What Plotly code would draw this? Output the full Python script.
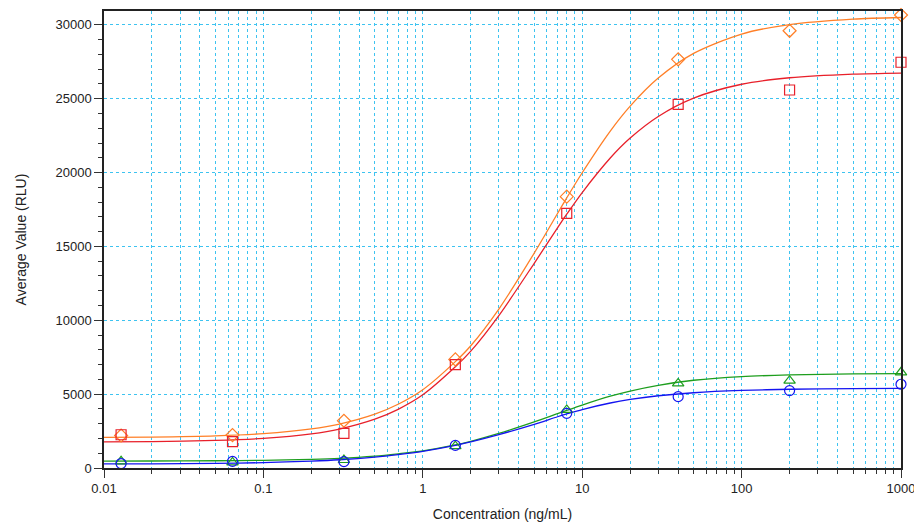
import plotly.graph_objects as go

# Measured standards (markers)
conc = [0.0128, 0.064, 0.32, 1.6, 8, 40, 200, 1000]
orange_pts = [2200, 2230, 3200, 7350, 18370, 27670, 29600, 30670]
red_pts = [2250, 1780, 2350, 7000, 17240, 24620, 25590, 27470]
green_pts = [450, 380, 540, 1480, 3930, 5730, 5910, 6480]
blue_pts = [300, 450, 430, 1530, 3700, 4830, 5240, 5670]

# Fitted curves
curve_x = [0.01, 0.02, 0.05, 0.1, 0.2, 0.3, 0.5, 0.7, 1, 1.6, 2, 3, 5, 7, 8, 10,
           15, 20, 30, 50, 100, 200, 500, 1000]
orange_fit = [2071, 2096, 2177, 2325, 2642, 2972, 3643, 4314, 5299, 7200, 8275, 10760,
              14550, 17230, 18290, 19990, 22810, 24500, 26400, 28070, 29380, 30020, 30390, 30500]
red_fit = [1769, 1791, 1867, 2007, 2316, 2639, 3306, 3974, 4957, 6850, 7910, 10320,
           13860, 16260, 17180, 18650, 20990, 22340, 23800, 25040, 25980, 26420, 26670, 26740]
green_fit = [470, 475, 490, 520, 585, 650, 800, 960, 1160, 1560, 1810, 2340,
             3120, 3680, 3900, 4260, 4860, 5210, 5600, 5940, 6190, 6300, 6370, 6390]
blue_fit = [277, 285, 310, 365, 470, 560, 740, 910, 1130, 1530, 1770, 2260,
            2950, 3470, 3660, 3960, 4400, 4640, 4890, 5095, 5250, 5330, 5375, 5390]

y_ticks = [0, 5000, 10000, 15000, 20000, 25000, 30000]
y_labels = ["0", "5000", "10000", "15000", "20000", "25000", "30000"]
x_ticks = [0.01, 0.1, 1, 10, 100, 1000]
x_labels = ["0.01", "0.1", "1", "10", "100", "1000"]

series = [
    (orange_fit, orange_pts, "#FF7F27", "diamond-open", 10),
    (red_fit, red_pts, "#E8202A", "square-open", 10),
    (green_fit, green_pts, "#1E9E1E", "triangle-up-open", 10),
    (blue_fit, blue_pts, "#1414F0", "circle-open", 10),
]

fig = go.Figure()
for fit, pts, col, sym, sz in series:
    fig.add_trace(go.Scatter(x=curve_x, y=fit, mode="lines",
                             line=dict(color=col, width=1.3, shape="spline", smoothing=0.8),
                             hoverinfo="skip", showlegend=False))
for fit, pts, col, sym, sz in series:
    fig.add_trace(go.Scatter(x=conc, y=pts, mode="markers", cliponaxis=False,
                             marker=dict(symbol=sym, size=sz, color=col, line=dict(width=1.2, color=col)),
                             showlegend=False))

grid_col = "#3EC3F0"
fig.update_xaxes(type="log", range=[-2, 3], tickvals=x_ticks, ticktext=x_labels,
                 automargin=False, ticklabeloverflow="allow",
                 ticks="outside", ticklen=8, tickcolor="#333", showline=True,
                 linecolor="#222", linewidth=1.5, mirror=True,
                 showgrid=True, gridcolor=grid_col, griddash="dot", gridwidth=1,
                 minor=dict(dtick="D1", ticks="outside", ticklen=4, tickcolor="#333",
                            showgrid=True, gridcolor=grid_col, griddash="dot", gridwidth=1),
                 zeroline=False,
                 title=dict(text="Concentration (ng/mL)", standoff=18),
                 tickfont=dict(size=13, color="#222"))
fig.update_yaxes(range=[0, 30940], tickvals=y_ticks, ticktext=y_labels,
                 automargin=False, ticklabeloverflow="allow",
                 ticks="outside", ticklen=8, tickcolor="#333", showline=True,
                 linecolor="#222", linewidth=1.5, mirror=True,
                 showgrid=True, gridcolor=grid_col, griddash="dot", gridwidth=1,
                 minor=dict(dtick=1000, ticks="outside", ticklen=4, tickcolor="#333", showgrid=False),
                 zeroline=False,
                 title=dict(text="Average Value (RLU)", standoff=26),
                 tickfont=dict(size=13, color="#222"))
fig.update_layout(width=914, height=522, margin=dict(l=104, r=13, t=11, b=54),
                  paper_bgcolor="white", plot_bgcolor="white",
                  font=dict(family="Liberation Sans, Arial, sans-serif", size=12, color="#222"),
                  showlegend=False)
fig.write_html("out.html")
